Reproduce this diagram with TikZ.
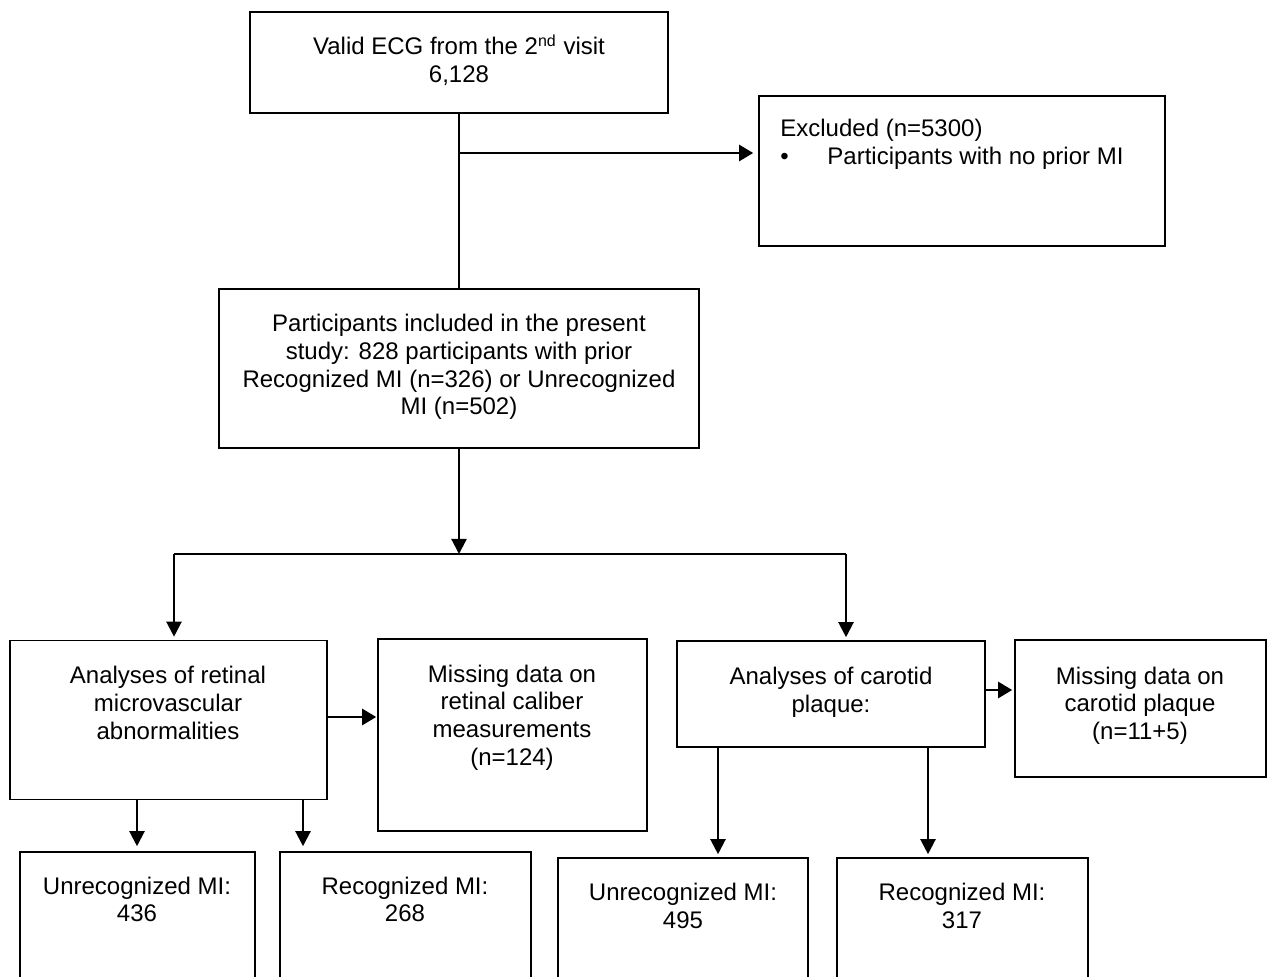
\documentclass[tikz,border=0pt]{standalone}
\usepackage{fontspec}
\setmainfont{Liberation Sans}
\usetikzlibrary{arrows.meta}

\begin{document}
\begin{tikzpicture}[
    x=0.5pt, y=-0.5pt,
    box/.style={draw, line width=0.8pt, inner sep=0pt},
    lbl/.style={align=center, inner sep=0pt, font=\fontsize{12}{13.8}\selectfont},
    link/.style={line width=1pt},
    flow/.style={line width=1.1pt, shorten >=1.5pt, -{Triangle[length=7.5pt, width=7.5pt]}},
    side/.style={line width=1.3pt, shorten >=1pt, -{Triangle[length=7pt, width=8pt]}}
]
\clip (0,0) rectangle (1267,977);
\fill[white] (0,0) rectangle (1267,977);

% Boxes
\node[box, minimum width=209pt, minimum height=50.5pt] (ecg) at (459,62.5) {};
\node[box, minimum width=203pt, minimum height=75pt] (excl) at (962,171) {};
\node[box, minimum width=240pt, minimum height=79.5pt] (incl) at (459,368.5) {};
\node[box, minimum width=158.5pt, minimum height=79.5pt] (ret) at (168.5,720) {};
\node[box, minimum width=134.5pt, minimum height=96pt] (misr) at (512.5,735) {};
\node[box, minimum width=154pt, minimum height=53pt] (car) at (831,694) {};
\node[box, minimum width=125.5pt, minimum height=68.5pt] (misc) at (1140.5,708.5) {};
\node[box, minimum width=117.5pt, minimum height=80pt] (unrec1) at (137.5,932) {};
\node[box, minimum width=125.5pt, minimum height=80pt] (rec1) at (405.5,932) {};
\node[box, minimum width=125pt, minimum height=80pt] (unrec2) at (683,938) {};
\node[box, minimum width=125.5pt, minimum height=80pt] (rec2) at (962.5,938) {};

% Texts
\node[lbl] (ecg-t) at (459,60) {Valid ECG from the 2\textsuperscript{nd} visit\\6,128};
\node[lbl, align=left, anchor=north west] (excl-t) at (780,119)
    {Excluded (n=5300)\\\makebox[23.5pt][l]{\textbullet}Participants with no prior MI};
\node[lbl] (incl-t) at (459,367) {Participants included in the present\\study: 828 participants with prior\\Recognized MI (n=326) or Unrecognized\\MI (n=502)};
\node[lbl] (ret-t) at (168,703) {Analyses of retinal\\microvascular\\abnormalities};
\node[lbl] (misr-t) at (512,717.5) {Missing data on\\retinal caliber\\measurements\\(n=124)};
\node[lbl] (car-t) at (831,692) {Analyses of carotid\\plaque:};
\node[lbl] (misc-t) at (1140,705.5) {Missing data on\\carotid plaque\\(n=11+5)};
\node[lbl] (unrec1-t) at (137,899.5) {Unrecognized MI:\\436};
\node[lbl] (rec1-t) at (405,899.5) {Recognized MI:\\268};
\node[lbl] (unrec2-t) at (683,906) {Unrecognized MI:\\495};
\node[lbl] (rec2-t) at (962,906) {Recognized MI:\\317};

% Junction points
\coordinate (split) at (459,153);
\coordinate (bar) at (459,554);
\coordinate (barL) at (174,554);
\coordinate (barR) at (846,554);

% Connectors
\draw[link] (ecg.south) -- (ecg.south |- incl.north);
\draw[side, shorten >=2.5pt] (split) -- (split -| excl.west);
\draw[flow, shorten >=0pt] (incl.south) -- (incl.south |- bar);
\draw[link, line width=1.4pt] (barL) -- (barR);
\draw[flow] (barL) -- (barL |- ret.north);
\draw[flow] (barR) -- (barR |- car.north);
\draw[side, shorten >=0.5pt] (ret.east |- 0,717) -- (misr.west |- 0,717);
\draw[side] (car.east |- 0,690) -- (misc.west |- 0,690);
\draw[flow, shorten >=2.5pt] (ret.south -| 137,0) -- (unrec1.north -| 137,0);
\draw[flow, shorten >=2.5pt] (ret.south -| 303,0) -- (rec1.north -| 303,0);
\draw[flow] (car.south -| 718,0) -- (unrec2.north -| 718,0);
\draw[flow] (car.south -| 928,0) -- (rec2.north -| 928,0);

\end{tikzpicture}
\end{document}
